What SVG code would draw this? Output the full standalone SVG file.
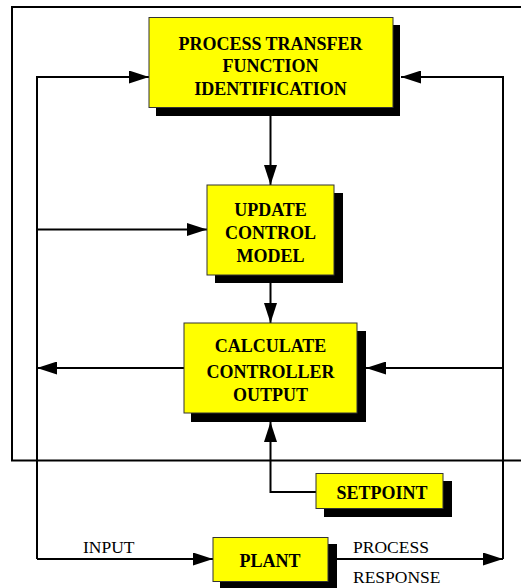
<svg xmlns="http://www.w3.org/2000/svg" width="521" height="588" viewBox="0 0 521 588">
<defs>
<marker id="ah" markerWidth="20" markerHeight="13" refX="20" refY="6.5" orient="auto" markerUnits="userSpaceOnUse">
<path d="M0,0 L20,6.5 L0,13 Z" fill="#000"/>
</marker>
<style>
.box{fill:#ffff00;stroke:#333;stroke-width:1}
.sh{fill:#000}
.t{font-family:"Liberation Serif","Times New Roman",serif;font-size:18px;font-weight:bold;fill:#000;text-anchor:middle}
.l{font-family:"Liberation Serif","Times New Roman",serif;font-size:17.5px;fill:#000}
.c{fill:none;stroke:#000;stroke-width:2}
</style>
</defs>
<rect width="521" height="588" fill="#fff"/>
<g id="connectors">
<path class="c" d="M521,7 H12 V460.5 H521"/>
<path class="c" d="M37,559 V77 H149" marker-end="url(#ah)"/>
<path class="c" d="M503,559 V77 H401" marker-end="url(#ah)"/>
<path class="c" d="M270.5,116 V185" marker-end="url(#ah)"/>
<path class="c" d="M37,229.5 H207" marker-end="url(#ah)"/>
<path class="c" d="M270.5,283 V323" marker-end="url(#ah)"/>
<path class="c" d="M184,368 H37" marker-end="url(#ah)"/>
<path class="c" d="M503,368 H366" marker-end="url(#ah)"/>
<path class="c" d="M316,492 H270.5 V422" marker-end="url(#ah)"/>
<path class="c" d="M37,559 H213" marker-end="url(#ah)"/>
<path class="c" d="M328,559 H503" marker-end="url(#ah)"/>
</g>
<g id="identification">
<rect class="sh" x="156" y="25" width="244" height="91"/>
<rect class="box" x="149" y="17.5" width="244" height="90"/>
<text class="t" x="270.5" y="49.5">PROCESS TRANSFER</text>
<text class="t" x="270.5" y="72">FUNCTION</text>
<text class="t" x="270.5" y="94.5">IDENTIFICATION</text>
</g>
<g id="update">
<rect class="sh" x="215" y="193" width="128" height="90"/>
<rect class="box" x="207" y="185" width="127" height="90"/>
<text class="t" x="270.5" y="215.5">UPDATE</text>
<text class="t" x="270.5" y="239">CONTROL</text>
<text class="t" x="270.5" y="261.5">MODEL</text>
</g>
<g id="calculate">
<rect class="sh" x="191" y="331" width="175" height="91"/>
<rect class="box" x="184" y="323" width="173" height="90"/>
<text class="t" x="270.5" y="352">CALCULATE</text>
<text class="t" x="270.5" y="377.5">CONTROLLER</text>
<text class="t" x="270.5" y="400.5">OUTPUT</text>
</g>
<g id="setpoint">
<rect class="sh" x="324" y="481" width="128" height="36"/>
<rect class="box" x="316" y="473.5" width="127" height="35"/>
<text class="t" x="382" y="499">SETPOINT</text>
</g>
<g id="plant">
<rect class="sh" x="220" y="544" width="117" height="44"/>
<rect class="box" x="213" y="537.5" width="115" height="44"/>
<text class="t" x="270" y="566.5">PLANT</text>
</g>
<g id="labels">
<text class="l" x="83" y="553">INPUT</text>
<text class="l" x="353" y="553">PROCESS</text>
<text class="l" x="353" y="583">RESPONSE</text>
</g>
</svg>
